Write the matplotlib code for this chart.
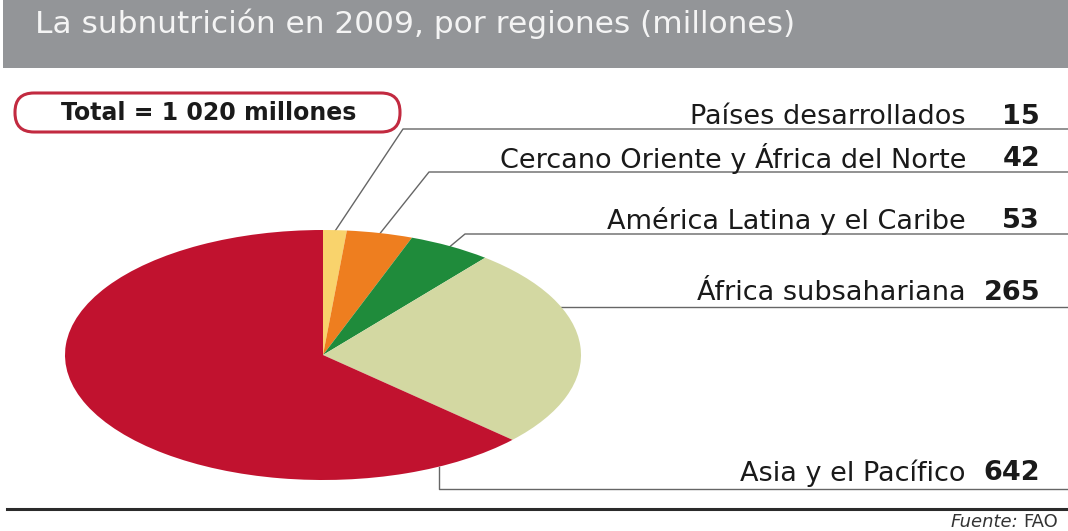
"""
La subnutrición en 2009, por regiones — gráfico de tarta con etiquetas a la derecha.
"""

import numpy as np
import matplotlib

matplotlib.use("Agg")
import matplotlib.pyplot as plt
from matplotlib.patches import FancyBboxPatch, Rectangle

# datos (millones de personas)
REGIONES = [
    "Países desarrollados",
    "Cercano Oriente y África del Norte",
    "América Latina y el Caribe",
    "África subsahariana",
    "Asia y el Pacífico",
]
VALORES = [15, 42, 53, 265, 642]
COLORES = ["#f9d36c", "#ee7e1f", "#1f8b3b", "#d3d8a2", "#c1122f"]

TITULO = "La subnutrición en 2009, por regiones (millones)"
TOTAL = "Total = 1 020 millones"
FUENTE = "Fuente:"
FUENTE_ORG = "FAO"

W, H = 1068, 531
plt.rcParams["font.family"] = ["DejaVu Sans"]

# geometría de la tarta (píxeles)
CX, CY, RX, RY = 323, 355, 258, 125

# filas de etiquetas: centro del texto, línea horizontal
TEXTO_Y = [117, 159, 221, 293, 473]
LINEA_Y = [129, 172, 234, 307, 489]
X_NOMBRE, X_NUM = 966, 1040


def punto_elipse(ang_deg, r=1.0):
    a = np.deg2rad(ang_deg)
    return CX + RX * r * np.cos(a), CY - RY * r * np.sin(a)


fig = plt.figure(figsize=(W / 100, H / 100), dpi=100)

# capa de fondo en coordenadas de píxel
bg = fig.add_axes([0, 0, 1, 1])
bg.set_xlim(0, W)
bg.set_ylim(H, 0)
bg.axis("off")

# banda del título
bg.add_patch(Rectangle((3, 0), W - 3, 68, color="#939598", lw=0, zorder=0))
bg.text(35, 24, TITULO, color="#f4f4f4", fontsize=22.5, va="center", ha="left")

# caja del total
caja = FancyBboxPatch((15, 93), 385, 39,
                      boxstyle="round,pad=0,rounding_size=19",
                      fc="white", ec="#c22a40", lw=2.2, zorder=3)
bg.add_patch(caja)
bg.text(209, 113, TOTAL, fontsize=17, fontweight="bold", color="#1a1a1a",
        ha="center", va="center", zorder=4)

# tarta elíptica (sentido horario desde arriba)
axp = fig.add_axes([(CX - RX) / W, (H - CY - RY) / H, 2 * RX / W, 2 * RY / H])
axp.pie(VALORES, colors=COLORES, startangle=90, counterclock=False,
        wedgeprops={"linewidth": 0})
axp.set_aspect("auto")
axp.set_xlim(-1, 1)
axp.set_ylim(-1, 1)
axp.axis("off")

# ángulos medios de cada porción
total = sum(VALORES)
acum = np.cumsum([0] + VALORES)
medios = [90 - (acum[i] + VALORES[i] / 2) / total * 360 for i in range(len(VALORES))]

gris = "#666666"
codos = [403, 429, 465]
for i in range(3):
    px, py = punto_elipse(medios[i], 0.99)
    bg.plot([px, codos[i], W], [py, LINEA_Y[i], LINEA_Y[i]], color=gris, lw=1.0)

# África subsahariana: línea desde el borde de la tarta
dy = (LINEA_Y[3] - CY) / RY
x_af = CX + RX * np.sqrt(1 - dy ** 2)
bg.plot([x_af, W], [LINEA_Y[3], LINEA_Y[3]], color=gris, lw=1.0)

# Asia y el Pacífico: línea en codo bajo la tarta
x_as = 439
y_as = CY + RY * np.sqrt(1 - ((x_as - CX) / RX) ** 2)
bg.plot([x_as, x_as, W], [y_as, LINEA_Y[4], LINEA_Y[4]], color=gris, lw=1.0)

for nombre, valor, ty in zip(REGIONES, VALORES, TEXTO_Y):
    bg.text(X_NOMBRE, ty, nombre, fontsize=19.5, color="#1a1a1a",
            ha="right", va="center")
    bg.text(X_NUM, ty, str(valor), fontsize=19.5, fontweight="bold",
            color="#1a1a1a", ha="right", va="center")

# línea inferior y fuente
bg.plot([7, W], [509, 509], color="#2b2b2b", lw=2.2)
bg.text(1018, 522, FUENTE, fontsize=13, style="italic", color="#333333",
        ha="right", va="center")
bg.text(1023, 522, FUENTE_ORG, fontsize=13, color="#333333",
        ha="left", va="center")

fig.savefig("out.png", dpi=100)
plt.close(fig)
